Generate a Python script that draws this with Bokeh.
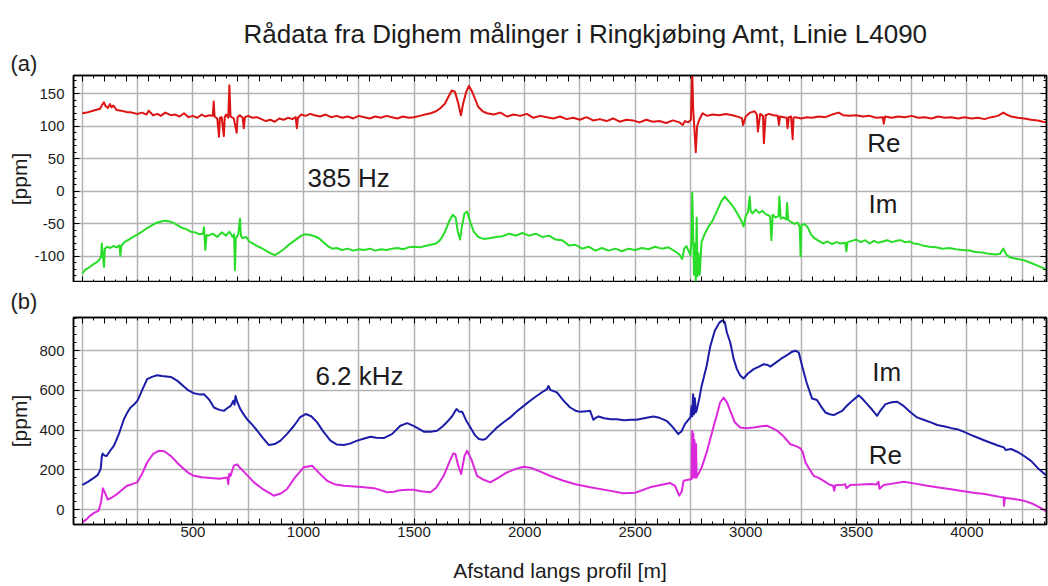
from bokeh.plotting import figure
from bokeh.layouts import column
from bokeh.models import Range1d, FixedTicker, LinearAxis, Label, Title, CustomJSTickFormatter
from bokeh.embed import file_html
from bokeh.resources import INLINE

# ---------------------------------------------------------------------------
# Dighem profile L4090, distance along the line [m] and response [ppm]
# ---------------------------------------------------------------------------

# 385 Hz, in-phase (Re)
re385_x = [0, 20, 40, 60, 80, 90, 97, 105, 115, 125,
           132, 140, 155, 175, 200, 225, 250, 270, 290, 300,
           320, 340, 355, 375, 400, 420, 440, 460, 480, 500,
           520, 540, 555, 575, 590, 594, 598, 610, 618, 622,
           630, 640, 644, 650, 660, 665, 670, 685, 698, 702,
           712, 725, 730, 735, 750, 770, 790, 810, 830, 850,
           870, 890, 910, 930, 950, 965, 970, 975, 990, 1010,
           1030, 1050, 1075, 1100, 1125, 1150, 1175, 1200, 1225, 1250,
           1275, 1300, 1325, 1350, 1375, 1400, 1425, 1450, 1475, 1500,
           1525, 1550, 1575, 1600, 1620, 1640, 1655, 1670, 1685, 1700,
           1712, 1722, 1735, 1748, 1760, 1775, 1790, 1810, 1830, 1860,
           1890, 1920, 1950, 1980, 2010, 2040, 2070, 2100, 2130, 2160,
           2190, 2220, 2250, 2280, 2310, 2340, 2370, 2400, 2430, 2460,
           2490, 2520, 2550, 2580, 2610, 2640, 2670, 2700, 2715, 2725,
           2740, 2752, 2758, 2762, 2768, 2774, 2780, 2790, 2805, 2825,
           2850, 2880, 2910, 2940, 2970, 2983, 2988, 3000, 3020, 3040,
           3050, 3055, 3065, 3078, 3082, 3090, 3105, 3125, 3145, 3150,
           3155, 3170, 3185, 3189, 3195, 3205, 3212, 3216, 3225, 3250,
           3275, 3300, 3330, 3360, 3390, 3420, 3440, 3470, 3500, 3530,
           3560, 3590, 3620, 3624, 3630, 3660, 3690, 3720, 3750, 3780,
           3810, 3840, 3870, 3900, 3930, 3960, 3990, 4020, 4050, 4080,
           4110, 4140, 4165, 4180, 4200, 4230, 4260, 4290, 4320, 4345,
           4360]
re385_y = [120, 121, 123, 125, 127, 133, 137, 131, 128, 134,
           129, 132, 125, 124, 122, 121, 119, 121, 118, 124,
           117, 119, 116, 121, 117, 118, 115, 120, 114, 116,
           113, 118, 115, 117, 116, 138, 115, 112, 84, 113,
           114, 85, 114, 118, 113, 163, 115, 112, 90, 114,
           117, 113, 97, 114, 116, 113, 114, 111, 108, 110,
           107, 112, 110, 113, 111, 114, 97, 113, 118, 116,
           119, 117, 115, 118, 114, 116, 113, 115, 112, 116,
           114, 112, 115, 113, 116, 114, 112, 115, 113, 114,
           116, 118, 120, 123, 128, 135, 145, 155, 153, 135,
           117, 135, 152, 162, 155, 143, 130, 123, 120, 118,
           121, 115, 118, 116, 119, 113, 116, 114, 112, 115,
           111, 113, 110, 114, 109, 111, 108, 112, 107, 110,
           109, 106, 110, 107, 108, 105, 109, 106, 102, 108,
           106, 110, 185, 128, 95, 60, 100, 110, 120, 116,
           118, 117, 119, 117, 114, 112, 102, 115, 121, 123,
           118, 92, 119, 116, 74, 117, 119, 117, 116, 102,
           115, 114, 113, 97, 114, 115, 80, 113, 114, 112,
           114, 113, 115, 114, 118, 121, 117, 116, 117, 115,
           116, 113, 114, 104, 115, 113, 115, 114, 116, 113,
           114, 112, 115, 113, 114, 112, 114, 112, 113, 111,
           114, 116, 121, 118, 115, 113, 112, 110, 109, 107,
           106]

# 385 Hz, quadrature (Im)
im385_x = [0, 15, 30, 45, 60, 75, 85, 88, 92, 98,
           102, 112, 125, 140, 155, 168, 172, 176, 190, 210,
           230, 250, 270, 290, 310, 330, 350, 370, 390, 410,
           430, 450, 470, 490, 510, 530, 545, 550, 556, 562,
           570, 590, 610, 630, 650, 665, 680, 686, 690, 694,
           705, 713, 717, 725, 740, 755, 770, 790, 810, 830,
           850, 870, 890, 910, 930, 950, 970, 990, 1010, 1030,
           1050, 1070, 1090, 1110, 1130, 1150, 1175, 1200, 1225, 1250,
           1275, 1300, 1325, 1350, 1375, 1400, 1425, 1450, 1475, 1500,
           1525, 1550, 1575, 1600, 1620, 1640, 1660, 1675, 1688, 1698,
           1708, 1716, 1728, 1740, 1755, 1770, 1790, 1815, 1840, 1870,
           1900, 1930, 1960, 1990, 2020, 2050, 2080, 2110, 2140, 2170,
           2200, 2230, 2260, 2290, 2320, 2350, 2380, 2410, 2440, 2470,
           2500, 2530, 2560, 2590, 2620, 2650, 2680, 2700, 2712, 2722,
           2732, 2742, 2750, 2755, 2758, 2762, 2766, 2770, 2774, 2778,
           2782, 2786, 2792, 2800, 2815, 2830, 2850, 2870, 2890, 2905,
           2920, 2940, 2960, 2980, 2990, 3000, 3010, 3018, 3022, 3030,
           3045, 3060, 3075, 3090, 3110, 3116, 3122, 3135, 3148, 3152,
           3158, 3170, 3183, 3187, 3192, 3205, 3220, 3235, 3244, 3248,
           3252, 3265, 3280, 3295, 3310, 3330, 3350, 3370, 3390, 3410,
           3430, 3450, 3455, 3460, 3480, 3500, 3520, 3540, 3560, 3580,
           3600, 3620, 3640, 3660, 3680, 3700, 3720, 3740, 3760, 3780,
           3800, 3830, 3860, 3890, 3920, 3950, 3980, 4010, 4040, 4070,
           4100, 4130, 4150, 4165, 4180, 4200, 4230, 4260, 4290, 4320,
           4345, 4360]
im385_y = [-126, -120, -117, -113, -110, -106, -100, -80, -95, -116,
           -88, -85, -87, -84, -86, -83, -99, -84, -78, -74,
           -70, -66, -62, -57, -53, -49, -47, -45, -46, -48,
           -52, -56, -58, -62, -63, -66, -65, -55, -90, -67,
           -68, -65, -70, -63, -68, -62, -70, -66, -121, -72,
           -66, -42, -68, -72, -70, -77, -80, -84, -87, -91,
           -95, -98, -94, -89, -83, -78, -73, -68, -66, -67,
           -69, -72, -78, -84, -88, -87, -90, -88, -91, -89,
           -90, -88, -91, -89, -90, -88, -87, -89, -86, -85,
           -86, -84, -82, -80, -74, -62, -45, -36, -40, -62,
           -74, -55, -34, -31, -48, -62, -70, -73, -72, -70,
           -69, -65, -68, -64, -68, -65, -70, -68, -74, -75,
           -83, -82, -88, -85, -91, -87, -91, -88, -92, -88,
           -90, -87, -89, -85, -88, -86, -92, -97, -104, -88,
           -84, -92, -98, -75, -2, -60, -128, -80, -137, -40,
           -130, -95, -128, -78, -65, -55, -45, -30, -15, -8,
           -14, -22, -33, -45, -54, -38, -32, -8, -30, -34,
           -28, -33, -30, -35, -38, -75, -36, -40, -38, -8,
           -42, -40, -43, -18, -44, -47, -50, -48, -55, -100,
           -52, -50, -55, -66, -72, -76, -80, -77, -81, -78,
           -80, -79, -92, -78, -76, -74, -78, -75, -80, -76,
           -79, -77, -75, -78, -76, -75, -78, -77, -80, -81,
           -83, -85, -86, -88, -87, -89, -90, -91, -93, -94,
           -96, -97, -96, -88, -98, -102, -104, -106, -110, -114,
           -118, -121]

# 6.2 kHz, quadrature (Im)
im62_x = [0, 25, 50, 70, 83, 88, 92, 100, 110, 125,
          143, 165, 188, 205, 218, 235, 250, 270, 293, 315,
          338, 360, 380, 400, 430, 459, 480, 504, 530, 550,
          575, 595, 620, 640, 655, 671, 683, 688, 693, 700,
          715, 730, 745, 770, 791, 815, 844, 870, 896, 925,
          957, 985, 1010, 1035, 1062, 1090, 1122, 1150, 1183, 1210,
          1243, 1275, 1303, 1330, 1363, 1400, 1438, 1469, 1500, 1544,
          1574, 1604, 1630, 1650, 1672, 1692, 1705, 1718, 1735, 1755,
          1775, 1793, 1810, 1823, 1845, 1875, 1905, 1935, 1965, 1996,
          2025, 2056, 2080, 2100, 2108, 2116, 2146, 2175, 2206, 2230,
          2251, 2280, 2296, 2305, 2311, 2320, 2334, 2360, 2390, 2417,
          2450, 2480, 2507, 2540, 2582, 2610, 2642, 2670, 2695, 2710,
          2725, 2740, 2750, 2755, 2758, 2762, 2766, 2770, 2774, 2778,
          2790, 2800, 2823, 2840, 2860, 2880, 2893, 2905, 2915, 2930,
          2945, 2960, 2975, 2990, 3010, 3036, 3060, 3081, 3100, 3111,
          3130, 3157, 3190, 3210, 3225, 3240, 3255, 3275, 3300, 3322,
          3340, 3360, 3380, 3398, 3420, 3436, 3455, 3473, 3490, 3511,
          3530, 3549, 3570, 3594, 3610, 3632, 3660, 3685, 3710, 3745,
          3775, 3810, 3840, 3866, 3900, 3930, 3956, 3990, 4020, 4047,
          4080, 4110, 4140, 4167, 4175, 4200, 4230, 4257, 4290, 4320,
          4345, 4362]
im62_y = [124, 140, 158, 175, 205, 268, 282, 272, 270, 295,
          322, 380, 455, 492, 514, 530, 550, 600, 657, 668,
          676, 672, 670, 668, 648, 620, 600, 586, 580, 581,
          552, 514, 502, 497, 510, 522, 548, 528, 572, 543,
          505, 478, 455, 425, 397, 362, 325, 330, 347, 380,
          422, 465, 481, 470, 439, 392, 347, 328, 325, 332,
          347, 358, 367, 362, 360, 380, 422, 435, 420, 392,
          392, 397, 420, 442, 470, 506, 492, 492, 450, 413,
          375, 355, 352, 355, 380, 413, 440, 464, 495, 522,
          548, 573, 592, 605, 622, 603, 590, 550, 514, 498,
          492, 495, 497, 470, 452, 460, 469, 460, 455, 455,
          450, 452, 452, 460, 469, 462, 447, 415, 380, 395,
          430, 452, 465, 520, 470, 581, 480, 560, 490, 500,
          560, 620, 723, 824, 900, 940, 952, 945, 890, 841,
          760, 707, 675, 660, 685, 707, 720, 732, 728, 720,
          735, 757, 780, 795, 800, 790, 723, 640, 559, 552,
          520, 489, 480, 476, 488, 497, 520, 539, 555, 575,
          555, 531, 505, 472, 500, 531, 540, 543, 525, 490,
          464, 450, 438, 426, 418, 410, 405, 390, 375, 363,
          348, 335, 323, 313, 300, 305, 290, 271, 245, 210,
          185, 170]

# 6.2 kHz, in-phase (Re)
re62_x = [0, 20, 36, 55, 74, 85, 93, 100, 115, 135,
          157, 180, 202, 225, 248, 270, 293, 320, 346, 370,
          399, 430, 459, 480, 504, 540, 580, 620, 655, 660,
          664, 670, 685, 700, 715, 740, 776, 820, 866, 900,
          926, 960, 1001, 1020, 1039, 1070, 1107, 1140, 1183, 1230,
          1273, 1320, 1378, 1410, 1438, 1469, 1499, 1530, 1574, 1600,
          1634, 1660, 1677, 1687, 1700, 1713, 1728, 1740, 1760, 1785,
          1815, 1845, 1880, 1920, 1960, 1996, 2030, 2071, 2120, 2176,
          2230, 2296, 2370, 2446, 2500, 2567, 2620, 2657, 2680, 2699,
          2710, 2719, 2740, 2755, 2758, 2760, 2763, 2766, 2768, 2771,
          2775, 2778, 2800, 2823, 2850, 2870, 2884, 2900, 2915, 2930,
          2950, 2975, 3000, 3036, 3070, 3096, 3120, 3142, 3170, 3202,
          3230, 3247, 3258, 3270, 3290, 3307, 3330, 3352, 3380, 3395,
          3400, 3405, 3420, 3440, 3450, 3455, 3473, 3520, 3564, 3590,
          3600, 3605, 3624, 3670, 3715, 3760, 3820, 3880, 3920, 3970,
          4030, 4080, 4121, 4150, 4166, 4168, 4172, 4180, 4220, 4257,
          4300, 4340, 4362]
re62_y = [-64, -48, -30, -15, -5, 40, 107, 90, 50, 62,
          78, 100, 120, 128, 137, 180, 237, 280, 296, 294,
          271, 235, 204, 185, 170, 163, 159, 155, 162, 128,
          180, 170, 221, 228, 208, 180, 137, 100, 70, 82,
          104, 160, 213, 217, 221, 185, 145, 128, 120, 116,
          112, 108, 87, 90, 98, 100, 100, 92, 87, 110,
          170, 240, 282, 280, 220, 179, 270, 296, 250, 170,
          150, 137, 160, 187, 205, 216, 210, 191, 168, 145,
          128, 112, 98, 82, 85, 112, 125, 134, 120, 70,
          90, 145, 150, 154, 396, 160, 380, 165, 350, 160,
          330, 162, 210, 288, 400, 480, 539, 564, 540, 497,
          440, 413, 410, 413, 420, 422, 410, 397, 370, 329,
          318, 308, 290, 237, 200, 170, 160, 145, 125, 120,
          95, 122, 124, 125, 128, 108, 124, 126, 129, 126,
          140, 105, 124, 132, 140, 132, 120, 110, 104, 95,
          85, 78, 70, 64, 62, 20, 60, 58, 52, 45,
          28, 5, -12]

# axis ticks and grid positions
x_major = list(range(0, 4400, 100))
x_minor = list(range(0, 4400, 50))
x_grid = list(range(0, 4400, 250))
y_major_a = [-100, -50, 0, 50, 100, 150]
y_minor_a = list(range(-140, 180, 10))
y_major_b = [0, 200, 400, 600, 800]
y_minor_b = list(range(-40, 970, 40))

FONT = "Liberation Sans"
TEXT = "#1c1c1c"
GRID = "#b2b2b2"

RED = "#dc1414"
GREEN = "#28dc28"
BLUE = "#1c1ca8"
MAGENTA = "#dc28dc"

no_labels = CustomJSTickFormatter(code="return '';")
plain_numbers = CustomJSTickFormatter(code="return String(tick);")
x_labels = CustomJSTickFormatter(code="return (tick > 0 && tick % 500 === 0) ? String(tick) : '';")


def style_axis(ax, ticker, formatter, size="15px"):
    ax.ticker = ticker
    ax.formatter = formatter
    ax.axis_line_color = "black"
    ax.axis_line_width = 1.5
    ax.major_tick_in = 6
    ax.major_tick_out = 0
    ax.minor_tick_in = 3
    ax.minor_tick_out = 0
    ax.major_tick_line_color = "black"
    ax.minor_tick_line_color = "black"
    ax.major_tick_line_width = 1
    ax.minor_tick_line_width = 1
    ax.major_label_text_font = FONT
    ax.major_label_text_font_size = size
    ax.major_label_text_color = TEXT
    ax.axis_label_text_font = FONT
    ax.axis_label_text_font_style = "normal"
    ax.axis_label_text_color = TEXT


def panel(height, top, bottom, y_lo, y_hi, y_major, y_minor, x_fmt):
    p = figure(width=1048, height=height,
               x_range=Range1d(-40, 4360), y_range=Range1d(y_lo, y_hi),
               output_backend="svg", toolbar_location=None, title_location=None,
               min_border_left=73, min_border_right=2,
               min_border_top=top, min_border_bottom=bottom)
    p.background_fill_color = "white"
    p.border_fill_color = "white"
    p.outline_line_color = "black"
    p.outline_line_width = 1.5

    bottom_axis = p.below[0]
    left_axis = p.left[0]
    style_axis(bottom_axis, FixedTicker(ticks=x_major, minor_ticks=x_minor), x_fmt)
    bottom_axis.major_label_standoff = 2
    style_axis(left_axis, FixedTicker(ticks=y_major, minor_ticks=y_minor), plain_numbers)
    left_axis.major_label_standoff = 9
    left_axis.axis_label = "[ppm]"
    left_axis.axis_label_text_font_size = "21px"

    above = LinearAxis()
    style_axis(above, FixedTicker(ticks=x_major, minor_ticks=x_minor), no_labels)
    above.major_label_standoff = 0
    p.add_layout(above, "above")
    right = LinearAxis()
    style_axis(right, FixedTicker(ticks=y_major, minor_ticks=y_minor), no_labels)
    right.major_label_standoff = 0
    p.add_layout(right, "right")

    p.xgrid.ticker = FixedTicker(ticks=x_grid)
    p.ygrid.ticker = FixedTicker(ticks=y_major)
    for g in (p.xgrid, p.ygrid):
        g.grid_line_color = GRID
        g.grid_line_width = 1.5
    return p, bottom_axis, left_axis


def heading(p, s, size, offset, standoff, side="above"):
    p.add_layout(Title(text=s, align="left", offset=offset, standoff=standoff,
                       text_font=FONT, text_font_size=size,
                       text_font_style="normal", text_color=TEXT), side)


def note(p, x, y, s):
    p.add_layout(Label(x=x, y=y, text=s, text_font=FONT, text_font_size="26px",
                       text_color=TEXT, text_align="left", text_baseline="middle"))


# (a) 385 Hz
pa, pa_x, pa_y = panel(282, 75, 0, -140, 178, y_major_a, y_minor_a, no_labels)
pa_x.major_label_standoff = 0
pa_y.axis_label_standoff = 0
pa.line(re385_x, re385_y, line_color=RED, line_width=2, line_join="round")
pa.line(im385_x, im385_y, line_color=GREEN, line_width=2, line_join="round")
heading(pa, "(a)", "22px", -63, 0)
heading(pa, "Rådata fra Dighem målinger i Ringkjøbing Amt, Linie L4090", "26px", 170, 0)
note(pa, 1018, 20.5, "385 Hz")
note(pa, 3549, 75, "Re")
note(pa, 3555, -19, "Im")

# (b) 6.2 kHz
pb, pb_x, pb_y = panel(304, 35, 62, -75, 967, y_major_b, y_minor_b, x_labels)
pb_y.axis_label_standoff = 5
pb_x.axis_label = "Afstand langs profil [m]"
pb_x.axis_label_text_font_size = "21px"
pb_x.axis_label_standoff = 19
pb.line(im62_x, im62_y, line_color=BLUE, line_width=2, line_join="round")
pb.line(re62_x, re62_y, line_color=MAGENTA, line_width=2, line_join="round")
heading(pb, "(b)", "22px", -63, 8)
note(pb, 1054, 673, "6.2 kHz")
note(pb, 3572, 694, "Im")
note(pb, 3556, 276, "Re")

layout = column(pa, pb)
open("out.html", "w").write(file_html(layout, INLINE))
